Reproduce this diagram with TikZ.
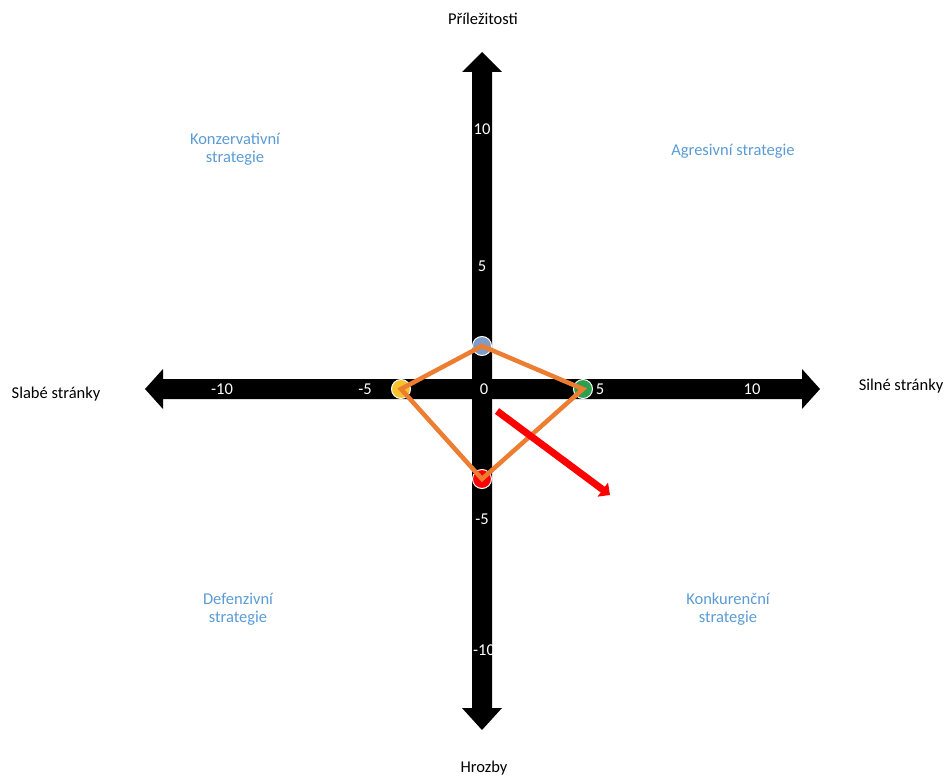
\documentclass[tikz,border=0pt]{standalone}
\usepackage{fontspec}
\setmainfont{Carlito}
\usetikzlibrary{arrows.meta}
\definecolor{qblue}{HTML}{5B9BD5}
\definecolor{qorange}{HTML}{ED7D31}
\definecolor{qgreen}{HTML}{2E9E4F}
\definecolor{qyellow}{HTML}{F7C22B}
\definecolor{qdot}{HTML}{7F9CC8}
\begin{document}
\begin{tikzpicture}[x=1pt,y=-1pt,
  quad/.style={text=qblue,font=\fontsize{16.5}{18}\selectfont,align=center},
  axlab/.style={text=black,font=\fontsize{16.5}{19}\selectfont},
  num/.style={text=white,font=\fontsize{16.5}{18}\selectfont,inner sep=0pt},
  pt/.style={circle,draw=white,line width=1pt,minimum size=19pt,inner sep=0pt}]
\useasboundingbox (0,0) rectangle (946,776);
% horizontal axis
\fill[black] (145,389) -- (163,369) -- (163,379) -- (802,379) -- (802,369) -- (820,389)
  -- (802,409) -- (802,399) -- (163,399) -- (163,409) -- cycle;
% vertical axis
\fill[black] (482,52) -- (502,72) -- (492,72) -- (492,708) -- (502,708) -- (482,730)
  -- (462,708) -- (472,708) -- (472,72) -- (462,72) -- cycle;
% numbers
\node[num] (h1) at (222,389) {-10};
\node[num] (h2) at (365,389) {-5};
\node[num] (h3) at (484,389) {0};
\node[num] (h4) at (600,389) {5};
\node[num] (h5) at (752,389) {10};
\node[num] (v1) at (482,129) {10};
\node[num] (v2) at (482,266) {5};
\node[num] (v3) at (482,519) {-5};
\node[num] (v4) at (484,650) {-10};
% axis labels
\node[axlab] (top) at (483,19) {Příležitosti};
\node[axlab] (bot) at (484,768) {Hrozby};
\node[axlab] (left) at (56,394) {Slabé stránky};
\node[axlab] (right) at (901,386) {Silné stránky};
% quadrant labels
\node[quad] (q1) at (235,149) {Konzervativní\\strategie};
\node[quad] (q2) at (733,151) {Agresivní strategie};
\node[quad] (q3) at (238,609) {Defenzivní\\strategie};
\node[quad] (q4) at (728,609) {Konkurenční\\strategie};
% points
\node[pt,fill=qdot] (pb) at (482,346) {};
\node[pt,fill=qyellow] (py) at (401,389) {};
\node[pt,fill=qgreen] (pg) at (583,389) {};
\node[pt,fill=red] (pr) at (482,479) {};
\draw[qorange,line width=4.5pt,line join=miter] (pb.center) -- (pg.center) -- (pr.center) -- (py.center) -- cycle;
% red arrow
\coordinate (ra) at (497,411);
\coordinate (rb) at (610,495);
\draw[red,line width=7pt,-{Triangle[length=9pt,width=17pt]}] (ra) -- (rb);
\end{tikzpicture}
\end{document}
